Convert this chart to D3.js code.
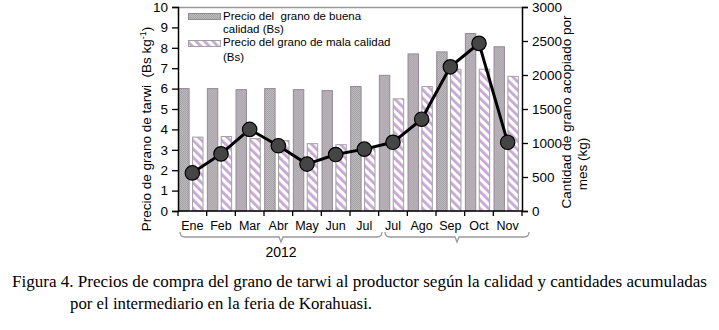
<!DOCTYPE html>
<html>
<head>
<meta charset="utf-8">
<script src="https://cdn.jsdelivr.net/npm/d3@7"></script>
<style>
  body { margin: 0; background: #fff; }
  svg text { font-family: "Liberation Sans", Arial, sans-serif; fill: #000; }
  .caption { font-family: "Liberation Serif", "Times New Roman", serif; font-size: 17px; }
</style>
</head>
<body>
<div id="chart"></div>
<script>
(function () {
  const width = 719, height = 330;

  // data
  const months = ["Ene", "Feb", "Mar", "Abr", "May", "Jun", "Jul", "Jul", "Ago", "Sep", "Oct", "Nov"];
  const precioBuena = [6.0, 6.0, 5.95, 6.0, 5.95, 5.9, 6.1, 6.65, 7.7, 7.8, 8.7, 8.05];
  const precioMala = [3.62, 3.65, 3.55, 3.45, 3.3, 3.25, 3.05, 5.5, 6.1, 6.95, 6.95, 6.6];
  const cantidad = [560, 840, 1200, 960, 690, 830, 910, 1010, 1350, 2120, 2465, 1010];
  const leftTicks = d3.range(0, 11, 1);
  const rightTicks = d3.range(0, 3001, 500);

  const left = 178, right = 522, top = 7, bottom = 211;

  const svg = d3.select("#chart").append("svg")
    .attr("width", width)
    .attr("height", height);

  // fill patterns for the two bar types
  const defs = svg.append("defs");
  const dots = defs.append("pattern")
    .attr("id", "dots").attr("patternUnits", "userSpaceOnUse")
    .attr("width", 2).attr("height", 2);
  dots.append("rect").attr("width", 2).attr("height", 2).attr("fill", "#c0b8c0");
  dots.append("rect").attr("width", 1).attr("height", 1).attr("fill", "#a4a8a4");
  dots.append("rect").attr("x", 1).attr("y", 1).attr("width", 1).attr("height", 1).attr("fill", "#a8a0a8");

  const hatch = defs.append("pattern")
    .attr("id", "hatch").attr("patternUnits", "userSpaceOnUse")
    .attr("width", 6).attr("height", 6)
    .attr("patternTransform", "rotate(-45)");
  hatch.append("rect").attr("width", 6).attr("height", 6).attr("fill", "#fff");
  hatch.append("rect").attr("width", 2.8).attr("height", 6).attr("fill", "#c8a8d2");

  // scales
  const x = d3.scaleBand().domain(d3.range(months.length)).range([left, right]);
  const xSub = d3.scaleBand().domain(["buena", "mala"])
    .range([0, x.bandwidth() - 3]).paddingInner(0.25).paddingOuter(0.05);
  const yLeft = d3.scaleLinear().domain([0, 10]).range([bottom, top]);
  const yRight = d3.scaleLinear().domain([0, 3000]).range([bottom, top]);

  // bars
  const groups = svg.append("g").selectAll("g")
    .data(months.map((m, i) => ({ i, buena: precioBuena[i], mala: precioMala[i] })))
    .join("g")
    .attr("transform", d => `translate(${x(d.i)},0)`);

  groups.append("rect")
    .attr("x", xSub("buena"))
    .attr("width", xSub.bandwidth())
    .attr("y", d => yLeft(d.buena))
    .attr("height", d => yLeft(0) - yLeft(d.buena))
    .attr("fill", "url(#dots)")
    .attr("stroke", "#968896")
    .attr("stroke-width", 1);

  groups.append("rect")
    .attr("x", xSub("mala"))
    .attr("width", xSub.bandwidth())
    .attr("y", d => yLeft(d.mala))
    .attr("height", d => yLeft(0) - yLeft(d.mala))
    .attr("fill", "url(#hatch)")
    .attr("stroke", "#a0a0a0")
    .attr("stroke-width", 1);

  // frame top line
  svg.append("line")
    .attr("x1", left).attr("x2", right).attr("y1", top + 0.5).attr("y2", top + 0.5)
    .attr("stroke", "#999").attr("stroke-width", 1.5);

  // axes
  const axisLeft = svg.append("g")
    .attr("transform", `translate(${left},0)`)
    .call(d3.axisLeft(yLeft).tickValues(leftTicks).tickSize(6).tickPadding(4));
  const axisRight = svg.append("g")
    .attr("transform", `translate(${right},0)`)
    .call(d3.axisRight(yRight).tickValues(rightTicks).tickFormat(d3.format("d")).tickSize(6).tickPadding(4));
  [axisLeft, axisRight].forEach(a => {
    a.select(".domain").attr("stroke", "#000").attr("stroke-width", 1.5);
    a.selectAll(".tick line").attr("stroke", "#000").attr("stroke-width", 1.3);
    a.selectAll("text").attr("font-size", 13.5).attr("font-family", "Liberation Sans, Arial, sans-serif");
  });

  // x axis with ticks at band edges
  const xAxis = svg.append("g");
  xAxis.append("line")
    .attr("x1", left).attr("x2", right).attr("y1", bottom).attr("y2", bottom)
    .attr("stroke", "#000").attr("stroke-width", 1.5);
  xAxis.selectAll("line.tk")
    .data(d3.range(months.length + 1))
    .join("line").attr("class", "tk")
    .attr("x1", i => left + i * x.step()).attr("x2", i => left + i * x.step())
    .attr("y1", bottom).attr("y2", bottom + 5)
    .attr("stroke", "#000").attr("stroke-width", 1.3);
  xAxis.selectAll("text")
    .data(months)
    .join("text")
    .attr("x", (d, i) => x(i) + x.bandwidth() / 2)
    .attr("y", 230)
    .attr("text-anchor", "middle")
    .attr("font-size", 12.5)
    .text(d => d);

  // year brackets
  const brackets = [
    { x0: 180, x1: 382, label: "2012" },
    { x0: 385, x1: 529, label: "" }
  ];
  brackets.forEach(b => {
    const mid = (b.x0 + b.x1) / 2, yb = 237;
    svg.append("path")
      .attr("d", `M${b.x0},${yb - 5} Q${b.x0},${yb} ${b.x0 + 5},${yb} L${mid - 2},${yb} L${mid},${yb + 5} L${mid + 2},${yb} L${b.x1 - 5},${yb} Q${b.x1},${yb} ${b.x1},${yb - 5}`)
      .attr("fill", "none").attr("stroke", "#999").attr("stroke-width", 1.3);
    if (b.label) {
      svg.append("text").attr("x", mid).attr("y", 257)
        .attr("text-anchor", "middle").attr("font-size", 14).text(b.label);
    }
  });

  // quantity line
  const line = d3.line()
    .x((d, i) => x(i) + x.bandwidth() / 2)
    .y(d => yRight(d));
  svg.append("path")
    .datum(cantidad)
    .attr("d", line)
    .attr("fill", "none")
    .attr("stroke", "#000")
    .attr("stroke-width", 3);
  svg.append("g").selectAll("circle")
    .data(cantidad)
    .join("circle")
    .attr("cx", (d, i) => x(i) + x.bandwidth() / 2)
    .attr("cy", d => yRight(d))
    .attr("r", 7.2)
    .attr("fill", "#454545")
    .attr("stroke", "#000")
    .attr("stroke-width", 1.2);

  // legend
  const legend = svg.append("g").attr("font-size", 11.5);
  legend.append("rect").attr("x", 188.5).attr("y", 13.5).attr("width", 32).attr("height", 6)
    .attr("fill", "url(#dots)").attr("stroke", "#968896");
  legend.append("text").attr("x", 223).attr("y", 20).attr("xml:space", "preserve").text("Precio del  grano de buena");
  legend.append("text").attr("x", 223).attr("y", 33.2).text("calidad (Bs)");
  legend.append("rect").attr("x", 188.5).attr("y", 40.5).attr("width", 32).attr("height", 6)
    .attr("fill", "url(#hatch)").attr("stroke", "#a0a0a0");
  legend.append("text").attr("x", 223).attr("y", 46.4).text("Precio del grano de mala calidad");
  legend.append("text").attr("x", 223).attr("y", 61).text("(Bs)");

  // axis titles
  const lt = svg.append("text")
    .attr("transform", "translate(151,129) rotate(-90)")
    .attr("text-anchor", "middle")
    .attr("font-size", 13.5)
    .attr("xml:space", "preserve");
  lt.append("tspan").text("Precio de grano de tarwi  (Bs kg");
  lt.append("tspan").attr("font-size", 9).attr("dy", -5).text("-1");
  lt.append("tspan").attr("dy", 5).text(")");

  svg.append("text")
    .attr("transform", "translate(571,112) rotate(-90)")
    .attr("text-anchor", "middle").attr("font-size", 13.5)
    .text("Cantidad de grano acopiado por");
  svg.append("text")
    .attr("transform", "translate(587,164) rotate(-90)")
    .attr("text-anchor", "middle").attr("font-size", 13.5)
    .text("mes (kg)");

  // caption
  svg.append("text").attr("class", "caption").attr("x", 12).attr("y", 287)
    .attr("textLength", 695).attr("lengthAdjust", "spacingAndGlyphs")
    .text("Figura 4. Precios de compra del grano de tarwi al productor según la calidad y cantidades acumuladas");
  svg.append("text").attr("class", "caption").attr("x", 70).attr("y", 309)
    .attr("textLength", 302).attr("lengthAdjust", "spacingAndGlyphs")
    .text("por el intermediario en la feria de Korahuasi.");
})();
</script>
</body>
</html>
